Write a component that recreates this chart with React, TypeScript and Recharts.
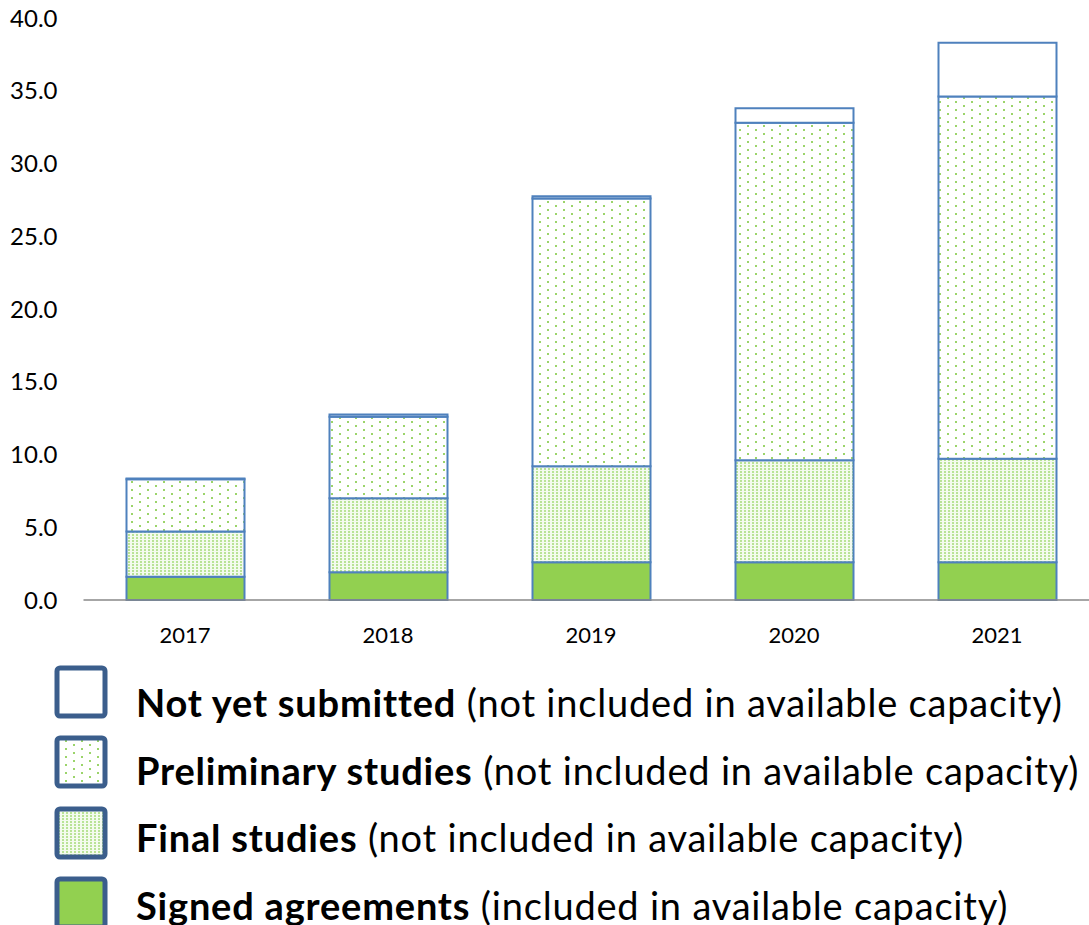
import { Bar, BarChart, Legend, XAxis, YAxis } from "recharts";

const years = ["2017", "2018", "2019", "2020", "2021"];
const signed = [1.6, 1.9, 2.6, 2.6, 2.6];
const finalStudies = [3.1, 5.1, 6.6, 7.0, 7.1];
const preliminary = [3.6, 5.6, 18.4, 23.2, 24.9];
const notSubmitted = [0.05, 0.15, 0.15, 1.0, 3.7];
const yTicks = [0, 5, 10, 15, 20, 25, 30, 35, 40];

const legendItems = [
  { key: "notSubmitted", bold: "Not yet submitted", rest: " (not included in available capacity)", fill: "#ffffff" },
  { key: "preliminary", bold: "Preliminary studies", rest: " (not included in available capacity)", fill: "url(#sparseDots)" },
  { key: "finalStudies", bold: "Final studies", rest: " (not included in available capacity)", fill: "url(#denseDots)" },
  { key: "signed", bold: "Signed agreements", rest: " (included in available capacity)", fill: "#92D050" },
];

const data = years.map((year, i) => ({
  year,
  signed: signed[i],
  finalStudies: finalStudies[i],
  preliminary: preliminary[i],
  notSubmitted: notSubmitted[i],
}));

const font = "Lato, 'Open Sans', sans-serif";

function LegendBlock() {
  return (
    <div style={{ position: "relative", width: 1089, height: 265, fontFamily: font }}>
      {legendItems.map((item, i) => (
        <div key={item.key}>
          <svg width={56} height={56} style={{ position: "absolute", left: 54, top: i * 70.3 }}>
            <rect x={3} y={3} width={48} height={48} rx={3} fill={item.fill} stroke="#3B5E8C" strokeWidth={5} />
          </svg>
          <span
            style={{
              position: "absolute",
              left: 136,
              top: 14 + i * 67.7,
              fontSize: 38,
              letterSpacing: 0.8,
              lineHeight: "46px",
              whiteSpace: "nowrap",
              color: "#000",
            }}
          >
            <b>{item.bold}</b>
            {item.rest}
          </span>
        </div>
      ))}
    </div>
  );
}

export default function App() {
  return (
    <div style={{ position: "absolute", left: 0, top: 0, width: 1089, height: 925, overflow: "hidden", background: "#fff" }}>
      <BarChart
        width={1100}
        height={925}
        data={data}
        margin={{ top: 18, right: 1.5, bottom: 295, left: 0 }}
        barSize={118}
      >
        <defs>
          <pattern id="sparseDots" width={16} height={8} patternUnits="userSpaceOnUse">
            <rect width={16} height={8} fill="#ffffff" />
            <rect x={3} y={1} width={2} height={2} fill="#9BD46A" />
            <rect x={11} y={5} width={2} height={2} fill="#9BD46A" />
          </pattern>
          <pattern id="denseDots" width={4} height={3} patternUnits="userSpaceOnUse">
            <rect width={4} height={3} fill="#f4fbee" />
            <rect x={0} y={0} width={2} height={2} fill="#B9E396" />
          </pattern>
        </defs>
        <XAxis
          dataKey="year"
          axisLine={{ stroke: "#888888", strokeWidth: 1.5 }}
          tickLine={false}
          tickMargin={21}
          tick={{ fill: "#000", fontSize: 22, fontFamily: font }}
        />
        <YAxis
          width={83.5}
          domain={[0, 40]}
          ticks={yTicks}
          axisLine={false}
          tickLine={false}
          tickMargin={20}
          tickFormatter={(v: number) => v.toFixed(1)}
          tick={{ fill: "#000", fontSize: 24, fontFamily: font }}
        />
        <Bar dataKey="signed" stackId="a" fill="#92D050" stroke="#4F81BD" strokeWidth={2} isAnimationActive={false} />
        <Bar dataKey="finalStudies" stackId="a" fill="url(#denseDots)" stroke="#4F81BD" strokeWidth={2} isAnimationActive={false} />
        <Bar dataKey="preliminary" stackId="a" fill="url(#sparseDots)" stroke="#4F81BD" strokeWidth={2} isAnimationActive={false} />
        <Bar dataKey="notSubmitted" stackId="a" fill="#ffffff" stroke="#4F81BD" strokeWidth={2} isAnimationActive={false} />
        <Legend
          layout="vertical"
          align="center"
          verticalAlign="middle"
          wrapperStyle={{ position: "absolute", left: 0, top: 665, width: 1089 }}
          content={() => <LegendBlock />}
        />
      </BarChart>
    </div>
  );
}
